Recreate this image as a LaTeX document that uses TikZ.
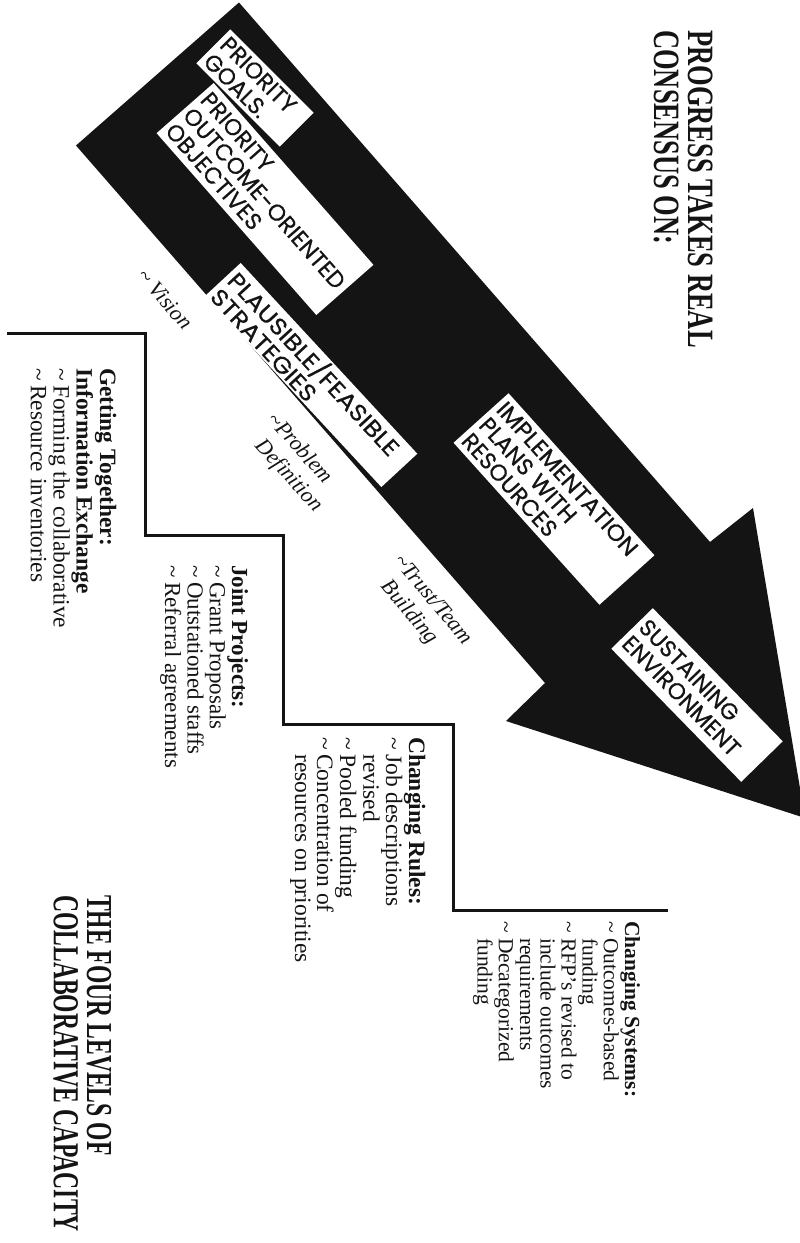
\documentclass[tikz,border=0pt]{standalone}
\usepackage{fontspec}
\usepackage{graphicx}
\setmainfont{Liberation Serif}
\newfontfamily\geofont[FakeBold=0.6]{Poppins}
\definecolor{ink}{HTML}{141414}
\newcommand{\tld}{\makebox[17pt][l]{\textasciitilde}}
\newcommand{\tind}{\hspace*{17pt}}
\begin{document}
\begin{tikzpicture}[x=1pt,y=-1pt,
  stepbox/.style={fill=white, inner xsep=4pt, inner ysep=0pt, align=left, text=ink,
    font=\geofont\fontsize{23}{23.5}\selectfont},
  leveltext/.style={anchor=base west, rotate=-90, inner sep=0pt, text=ink},
  steplabel/.style={inner sep=0pt, text=ink, font=\itshape\fontsize{22}{26}\selectfont},
  levelline/.style={draw=ink, line width=3pt, line join=miter, line cap=butt}]
\useasboundingbox (0,0) rectangle (800,1243);
\fill[white] (0,0) rectangle (800,1243);

% big arrow
\begin{scope}
\clip (0,0) rectangle (800,1243);
\coordinate (A) at (239,2.5);
\coordinate (N1) at (710,542);
\coordinate (U) at (753,508);
\coordinate (T) at (805,818);
\coordinate (L) at (506,721);
\coordinate (N2) at (545,683);
\coordinate (B) at (76,145.5);
\fill[ink] (A) -- (N1) -- (U) -- (T) -- (L) -- (N2) -- (B) -- cycle;
\end{scope}

% boxes on the arrow
\node[stepbox, rotate=-45, text width=110pt, minimum height=48pt] (pg) at (255,88) {PRIORITY\\GOALS.};
\node[stepbox, rotate=-48.7, text width=234pt, minimum height=76pt] (po) at (265,199) {PRIORITY\\\mbox{OUTCOME-ORIENTED}\\OBJECTIVES};
\node[stepbox, rotate=-47.2, text width=252pt, minimum height=49pt] (ps) at (311,375) {\scalebox{1.12}[1]{PLAUSIBLE/FEASIBLE}\\\scalebox{1.12}[1]{STRATEGIES}};
\node[stepbox, rotate=-48, text width=210pt, minimum height=74pt] (ip) at (554,499) {\scalebox{1.05}[1]{IMPLEMENTATION}\\PLANS WITH\\RESOURCES};
\node[stepbox, rotate=-45.7, text width=178pt, minimum height=58pt] (se) at (697,695) {SUSTAINING\\ENVIRONMENT};

% staircase
\coordinate (s0) at (7,333);
\coordinate (s1) at (145,333);
\coordinate (s2) at (145,535);
\coordinate (s3) at (283,535);
\coordinate (s4) at (283,724);
\coordinate (s5) at (453,724);
\coordinate (s6) at (453,910);
\coordinate (s7) at (668,910);
\draw[levelline] (s0) -- (s1) -- (s2) -- (s3) -- (s4) -- (s5) -- (s6) -- (s7);

% italic step labels
\node[steplabel, rotate=-49] (vis) at (165,299) {\textasciitilde\ Vision};
\node[steplabel, rotate=-48, anchor=base west] (prob) at (266,420)
  {\begin{tabular}[t]{@{}l@{}}\textasciitilde Problem\\\phantom{\textasciitilde}Definition\end{tabular}};
\node[steplabel, rotate=-50, anchor=base west] (trust) at (393,561)
  {\begin{tabular}[t]{@{}l@{}}\textasciitilde Trust/Team\\\phantom{\textasciitilde}Building\end{tabular}};

% level texts
\node[leveltext, font=\fontsize{23.4}{22.7}\selectfont] (lv1) at (100,368)
  {\begin{tabular}[t]{@{}l@{}}\textbf{Getting Together:}\\\textbf{Information Exchange}\\\tld Forming the collaborative\\\tld Resource inventories\end{tabular}};
\node[leveltext, font=\fontsize{23}{20.5}\selectfont] (lv2) at (232,565)
  {\begin{tabular}[t]{@{}l@{}}\textbf{Joint Projects:}\\\tld Grant Proposals\\\tld Outstationed staffs\\\tld Referral agreements\end{tabular}};
\node[leveltext, font=\fontsize{23.5}{21.8}\selectfont] (lv3) at (409,737)
  {\begin{tabular}[t]{@{}l@{}}\textbf{Changing Rules:}\\\tld Job descriptions\\\tind revised\\\tld Pooled funding\\\tld Concentration of\\\tind resources on priorities\end{tabular}};
\node[leveltext, font=\fontsize{21.5}{20.5}\selectfont] (lv4) at (625,921)
  {\begin{tabular}[t]{@{}l@{}}\textbf{Changing Systems:}\\\tld Outcomes-based\\\tind funding\\\tld RFP's revised to\\\tind include outcomes\\\tind requirements\\\tld Decategorized\\\tind funding\end{tabular}};

% titles
\node[leveltext] (title1) at (688,30)
  {\scalebox{1}[1.4]{\fontsize{26.5}{22.1}\selectfont\bfseries\begin{tabular}[t]{@{}l@{}}PROGRESS TAKES REAL\\CONSENSUS ON:\end{tabular}}};
\node[leveltext] (title2) at (87,895)
  {\scalebox{1}[1.55]{\fontsize{23.6}{19.4}\selectfont\bfseries\begin{tabular}[t]{@{}l@{}}THE FOUR LEVELS OF\\COLLABORATIVE CAPACITY\end{tabular}}};
\end{tikzpicture}
\end{document}
